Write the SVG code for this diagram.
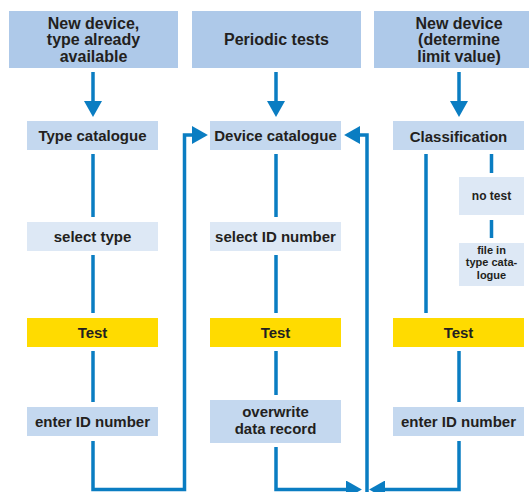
<svg xmlns="http://www.w3.org/2000/svg" width="529" height="492" viewBox="0 0 529 492">
<style>
text{font-family:"Liberation Sans",Arial,sans-serif;font-weight:bold;fill:#231f20;text-anchor:middle}
.h{font-size:16px}
.b{font-size:15px}
.s{font-size:12px}
.t{font-size:11px}
.hd{fill:#aec9e9}
.mid{fill:#c4d8ef}
.lt{fill:#dde8f5}
.ye{fill:#ffdb00}
.c{fill:none;stroke:#0a7dc2;stroke-width:3.5}
</style>
<defs>
<marker id="ah" markerUnits="userSpaceOnUse" markerWidth="16" markerHeight="18" refX="0" refY="8.5" orient="auto" viewBox="0 0 15 17">
<path d="M0,0 L15,8.5 L0,17 Z" fill="#0a7dc2"/>
</marker>
</defs>
<g id="h1"><rect class="hd" x="9" y="11" width="169" height="57"/><text class="h" x="93.5" y="28.5">New device,</text><text class="h" x="93.5" y="45">type already</text><text class="h" x="93.5" y="61.5">available</text></g>
<g id="h2"><rect class="hd" x="192" y="11" width="169" height="57"/><text class="h" x="276.5" y="45">Periodic tests</text></g>
<g id="h3"><rect class="hd" x="374" y="11" width="160" height="57"/><text class="h" x="459" y="28.5">New device</text><text class="h" x="459" y="45">(determine</text><text class="h" x="459" y="61.5">limit value)</text></g>
<g id="typecat"><rect class="mid" x="27" y="121" width="131" height="29"/><text class="b" x="92.5" y="141">Type catalogue</text></g>
<g id="devcat"><rect class="mid" x="210" y="121" width="131" height="29"/><text class="b" x="275.5" y="141">Device catalogue</text></g>
<g id="classif"><rect class="mid" x="393" y="121" width="131" height="29"/><text class="b" x="458.5" y="141.5">Classification</text></g>
<g id="seltype"><rect class="lt" x="27" y="222" width="131" height="29"/><text class="b" x="92.5" y="242">select type</text></g>
<g id="selid"><rect class="lt" x="210" y="222" width="131" height="29"/><text class="b" x="275.5" y="242">select ID number</text></g>
<g id="notest"><rect class="lt" x="459" y="177" width="65" height="38"/><text class="s" x="491.5" y="200">no test</text></g>
<g id="filein"><rect class="lt" x="459" y="243" width="65" height="43"/><text class="t" x="491.5" y="253.5">file in</text><text class="t" x="491.5" y="266">type cata-</text><text class="t" x="491.5" y="278.5">logue</text></g>
<g id="test1"><rect class="ye" x="27" y="318" width="131" height="29"/><text class="b" x="92.5" y="338">Test</text></g>
<g id="test2"><rect class="ye" x="210" y="318" width="131" height="29"/><text class="b" x="275.5" y="338">Test</text></g>
<g id="test3"><rect class="ye" x="393" y="318" width="131" height="29"/><text class="b" x="458.5" y="338">Test</text></g>
<g id="enter1"><rect class="mid" x="27" y="407" width="131" height="29"/><text class="b" x="92.5" y="427">enter ID number</text></g>
<g id="overwrite"><rect class="mid" x="210" y="400" width="131" height="43"/><text class="b" x="275.5" y="417">overwrite</text><text class="b" x="275.5" y="434">data record</text></g>
<g id="enter3"><rect class="mid" x="393" y="407" width="131" height="29"/><text class="b" x="458.5" y="427">enter ID number</text></g>
<g id="connectors">
<path class="c" d="M93 72 V101" marker-end="url(#ah)"/>
<path class="c" d="M276 72 V101" marker-end="url(#ah)"/>
<path class="c" d="M459 72 V101" marker-end="url(#ah)"/>
<path class="c" d="M93 154 V217 M93 255 V313 M93 351 V402"/>
<path class="c" d="M276 154 V217 M276 255 V313 M276 351 V395"/>
<path class="c" d="M426 154 V313 M491.5 154 V173 M491.5 220 V238 M459 351 V402"/>
<path class="c" d="M93 441 V489.5 H184.5 V135 H192" marker-end="url(#ah)"/>
<path class="c" d="M276 447 V489.5 H346" marker-end="url(#ah)"/>
<path class="c" d="M459 441 V489.5 H385" marker-end="url(#ah)"/>
<path class="c" d="M367 492 V135 H360" marker-end="url(#ah)"/>
</g>
</svg>
